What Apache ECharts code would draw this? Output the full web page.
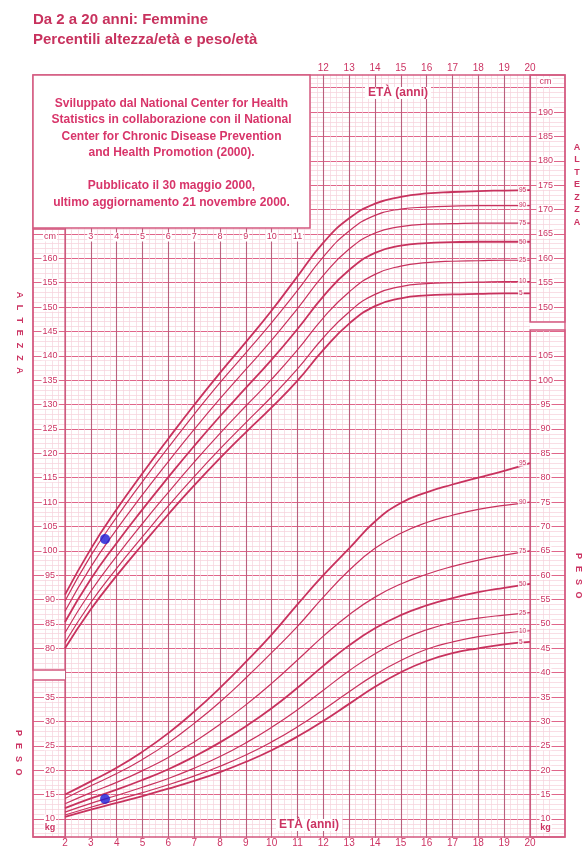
<!DOCTYPE html>
<html><head><meta charset="utf-8">
<script src="https://cdn.jsdelivr.net/npm/echarts@6/dist/echarts.min.js"></script>
<style>html,body{margin:0;padding:0;background:#fff}#c{width:584px;height:855px}</style>
</head><body><div id="c"></div>
<script>
// ---------- DATA ----------
const ages = [2,3,4,5,6,7,8,9,10,11,12,13,14,15,16,17,18,19,20];
// Stature-for-age (cm)
const statureP5  = [80.0, 88.0, 94.9,101.3,107.5,113.4,119.0,124.3,129.4,134.9,141.2,146.6,150.2,151.8,152.4,152.6,152.7,152.8,152.8];
const statureP10 = [81.2, 89.4, 96.4,102.9,109.2,115.2,120.9,126.3,131.6,137.3,143.7,149.0,152.6,154.2,154.8,155.0,155.1,155.2,155.2];
const statureP25 = [83.2, 91.7, 98.9,105.6,112.0,118.2,124.1,129.7,135.2,141.2,147.8,153.1,156.7,158.4,159.1,159.4,159.5,159.6,159.6];
const statureP50 = [85.4, 94.2,101.6,108.5,115.1,121.5,127.6,133.4,139.2,145.5,152.2,157.6,161.1,162.6,163.1,163.3,163.4,163.4,163.4];
const statureP75 = [87.6, 96.7,104.4,111.5,118.3,124.9,131.2,137.2,143.2,149.7,156.5,161.9,165.2,166.5,167.0,167.1,167.2,167.2,167.2];
const statureP90 = [89.7, 99.0,106.9,114.2,121.2,128.0,134.5,140.6,146.8,153.4,160.3,165.6,168.8,170.1,170.5,170.7,170.8,170.8,170.8];
const statureP95 = [91.0,100.4,108.5,115.9,123.0,129.9,136.5,142.8,149.3,156.3,163.2,168.2,171.2,172.6,173.3,173.6,173.8,173.9,174.0];
// Weight-for-age (kg)
const weightP5  = [10.4,11.9,13.3,14.7,16.2,17.8,19.6,21.7,24.1,26.9,30.1,33.6,37.1,40.1,42.4,44.0,45.0,45.8,46.3];
const weightP10 = [10.8,12.4,13.9,15.4,17.0,18.8,20.8,23.1,25.8,28.9,32.4,36.1,39.6,42.5,44.8,46.3,47.4,48.1,48.6];
const weightP25 = [11.4,13.2,14.8,16.5,18.3,20.4,22.8,25.6,28.8,32.4,36.4,40.4,43.9,46.7,48.8,50.3,51.2,51.8,52.3];
const weightP50 = [12.2,14.2,16.0,18.0,20.2,22.8,25.7,29.0,32.7,36.9,41.4,45.6,49.1,51.8,53.8,55.3,56.5,57.4,58.2];
const weightP75 = [13.1,15.4,17.5,19.9,22.6,25.8,29.4,33.4,37.8,42.6,47.5,51.9,55.5,58.2,60.2,61.8,63.1,64.1,65.0];
const weightP90 = [14.2,16.8,19.3,22.2,25.6,29.6,34.0,38.9,44.1,49.5,55.5,61.0,65.5,68.6,70.8,72.3,73.5,74.3,75.0];
const weightP95 = [15.0,17.7,20.5,23.8,27.6,32.0,36.9,42.2,47.8,54.0,60.0,65.5,71.0,74.8,77.0,78.6,80.0,81.4,83.0];
const percentileNames = ['5','10','25','50','75','90','95'];
// Patient measurements
const patientStature = [[3.55, 102.4]];
const patientWeight  = [[3.55, 14.1]];
// Tick label ranges
const bottomAgeLabels = [2,3,4,5,6,7,8,9,10,11,12,13,14,15,16,17,18,19,20];
const topAgeLabels = [12,13,14,15,16,17,18,19,20];
const innerAgeLabels = [3,4,5,6,7,8,9,10,11];
const leftStatureRange = [80,160];
const leftWeightRange = [10,35];
const rightStatureRange = [150,190];
const rightWeightRange = [10,105];

// ---------- CHART ----------
const RED = '#cc3463';
const LINE = '#c8325e';
const FONT = '"Liberation Sans", Arial, sans-serif';
const chart = echarts.init(document.getElementById('c'), null, {renderer:'canvas'});

const gTop = 63.3, gBottom = 11.7;
const grids = [
  {left:33, right:19, top:gTop, bottom:gBottom, show:false},
  {left:39.17, right:28.17, top:gTop, bottom:gBottom, show:false}
];
const STAT_MIN = 40, STAT_MAX = 200, W_MIN = 5, W_MAX = 165;

function rangeFmt(r){ return v => (v>=r[0] && v<=r[1]) ? String(v) : ''; }
function listFmt(list){ return v => list.indexOf(v) >= 0 ? String(v) : ''; }
const lblStyle = {fontSize:9, color:RED, fontFamily:FONT, backgroundColor:'#fff', padding:[0,1]};

const yAxes = [
  // 0: horizontal grid lines
  {gridIndex:0, type:'value', min:STAT_MIN, max:STAT_MAX, interval:5, position:'left', z:0,
   axisLine:{show:false}, axisTick:{show:false}, axisLabel:{show:false},
   splitLine:{show:true, showMinLine:false, showMaxLine:false, lineStyle:{color:'#e0668a', width:1.1}},
   minorTick:{show:false, splitNumber:5},
   minorSplitLine:{show:true, lineStyle:{color:'#f7d0da', width:0.7}}},
  // 1: left stature labels
  {gridIndex:0, type:'value', min:STAT_MIN, max:STAT_MAX, interval:5, position:'left', z:5,
   axisLine:{show:false}, axisTick:{show:false}, splitLine:{show:false},
   axisLabel:Object.assign({inside:true, margin:17, align:'center', formatter:rangeFmt(leftStatureRange)}, lblStyle)},
  // 2: left weight labels
  {gridIndex:0, type:'value', min:W_MIN, max:W_MAX, interval:5, position:'left', z:5,
   axisLine:{show:false}, axisTick:{show:false}, splitLine:{show:false},
   axisLabel:Object.assign({inside:true, margin:17, align:'center', formatter:rangeFmt(leftWeightRange)}, lblStyle)},
  // 3: right stature labels
  {gridIndex:0, type:'value', min:STAT_MIN, max:STAT_MAX, interval:5, position:'right', z:5,
   axisLine:{show:false}, axisTick:{show:false}, splitLine:{show:false},
   axisLabel:Object.assign({inside:true, margin:19.5, align:'center', formatter:rangeFmt(rightStatureRange)}, lblStyle)},
  // 4: right weight labels
  {gridIndex:0, type:'value', min:W_MIN, max:W_MAX, interval:5, position:'right', z:5,
   axisLine:{show:false}, axisTick:{show:false}, splitLine:{show:false},
   axisLabel:Object.assign({inside:true, margin:19.5, align:'center', formatter:rangeFmt(rightWeightRange)}, lblStyle)},
  // 5: stature data axis
  {gridIndex:1, type:'value', min:STAT_MIN, max:STAT_MAX, show:false},
  // 6: weight data axis
  {gridIndex:1, type:'value', min:W_MIN, max:W_MAX, show:false}
];

const xAxes = [
  {gridIndex:0, type:'value', min:0, max:1, show:false},
  // 1: vertical grid lines
  {gridIndex:1, type:'value', min:1, max:21, interval:1, position:'bottom', z:0,
   axisLine:{show:false}, axisTick:{show:false}, axisLabel:{show:false},
   splitLine:{show:true, showMinLine:false, showMaxLine:false, lineStyle:{color:'#b9607e', width:1.1}},
   minorTick:{show:false, splitNumber:4},
   minorSplitLine:{show:true, lineStyle:{color:'#f5d2dc', width:0.7}}},
  // 2: bottom labels
  {gridIndex:1, type:'value', min:1, max:21, interval:1, position:'bottom', z:5,
   axisLine:{show:false}, axisTick:{show:false}, splitLine:{show:false},
   axisLabel:{margin:0, verticalAlign:'middle', fontSize:10, color:RED, fontFamily:FONT, formatter:listFmt(bottomAgeLabels)}},
  // 3: top labels
  {gridIndex:1, type:'value', min:1, max:21, interval:1, position:'top', offset:-4.7, z:5,
   axisLine:{show:false}, axisTick:{show:false}, splitLine:{show:false},
   axisLabel:{margin:0, verticalAlign:'middle', fontSize:10, color:RED, fontFamily:FONT, formatter:listFmt(topAgeLabels)}},
  // 4: inner age row
  {gridIndex:1, type:'value', min:1, max:21, interval:1, position:'top', offset:-173.7, z:5,
   axisLine:{show:false}, axisTick:{show:false}, splitLine:{show:false},
   axisLabel:{margin:0, verticalAlign:'middle', fontSize:9, color:RED, fontFamily:FONT, backgroundColor:'#fff', padding:[0,1], formatter:listFmt(innerAgeLabels)}}
];

function pctSeries(arr, name, yIdx){
  const thick = (name==='5'||name==='50'||name==='95');
  return {
    type:'line', name:'P'+name, xAxisIndex:1, yAxisIndex:yIdx, z:3,
    data: ages.map((a,i)=>[a, arr[i]]),
    smooth:0.5, showSymbol:false, silent:true,
    lineStyle:{color:LINE, width: thick?1.8:1.2},
    endLabel:{show:true, formatter:name, offset:[-20,0], fontSize:6.5, color:RED, fontFamily:FONT,
      backgroundColor:'rgba(255,255,255,0.85)', padding:[0,1]}
  };
}
const statArrs = [statureP5,statureP10,statureP25,statureP50,statureP75,statureP90,statureP95];
const wArrs = [weightP5,weightP10,weightP25,weightP50,weightP75,weightP90,weightP95];
const series = [];
statArrs.forEach((a,i)=>series.push(pctSeries(a, percentileNames[i], 5)));
wArrs.forEach((a,i)=>series.push(pctSeries(a, percentileNames[i], 6)));
series.push({type:'scatter', xAxisIndex:1, yAxisIndex:5, data:patientStature, symbolSize:10, z:6, itemStyle:{color:'#1a1ad6'}});
series.push({type:'scatter', xAxisIndex:1, yAxisIndex:6, data:patientWeight, symbolSize:10, z:6, itemStyle:{color:'#1a1ad6'}});

// ---------- decorations ----------
const FR = '#d45a80';
function rect(x,y,w,h,fill,stroke,z,lw){ return {type:'rect', shape:{x,y,width:w,height:h}, z:z, silent:true,
  style:{fill:fill||'none', stroke:stroke||null, lineWidth:lw||1.3}}; }
function txt(x,y,text,opts){ return {type:'text', x, y, z:(opts&&opts.z)||8, silent:true, rotation:(opts&&opts.rot)||0,
  style:Object.assign({text, fill:RED, font:'bold 9px '+FONT, align:'center', verticalAlign:'middle'}, (opts&&opts.style)||{})}; }
function rotLetters(word, x, y0, pitch){ return word.split('').map((ch,i)=>txt(x, y0+i*pitch, ch, {rot:-Math.PI/2})); }

const elements = [
  rect(0,0,584,74.5,'#fff',null,1),
  rect(0,838,584,17,'#fff',null,1),
  rect(33,670,32,10,'#fff',null,1),
  rect(530,322,35,8,'#fff',null,1),
  rect(33,75,532,762,null,FR,2,1.4),
  rect(33,229,32,441,null,FR,2,1.3),
  rect(33,680,32,157,null,FR,2,1.3),
  rect(530,75,35,247,null,FR,2,1.3),
  rect(530,330,35,507,null,FR,2,1.3),
  rect(33,75,277,153,'#fff',FR,4,1.5),
  txt(171.5,95,'Sviluppato dal National Center for Health\nStatistics in collaborazione con il National\nCenter for Chronic Disease Prevention\nand Health Promotion (2000).\n\nPubblicato il 30 maggio 2000,\nultimo aggiornamento 21 novembre 2000.',
      {style:{font:'bold 12px '+FONT, verticalAlign:'top', lineHeight:16.5, fill:'#d8356a'}}),
  txt(33,20,'Da 2 a 20 anni: Femmine',{style:{font:'bold 15px '+FONT, align:'left', fill:'#c8325e'}}),
  txt(33,40,'Percentili altezza/età e peso/età',{style:{font:'bold 15px '+FONT, align:'left', fill:'#c8325e'}}),
  txt(50,237,'cm',{style:{font:'9px '+FONT, backgroundColor:'#fff', padding:[0,1]}}),
  txt(545.5,82,'cm',{style:{font:'9px '+FONT, backgroundColor:'#fff', padding:[0,1]}}),
  txt(50,828,'kg',{style:{font:'bold 9px '+FONT, backgroundColor:'#fff', padding:[0,1]}}),
  txt(545.5,828,'kg',{style:{font:'bold 9px '+FONT, backgroundColor:'#fff', padding:[0,1]}}),
  txt(398,93,'ETÀ (anni)',{style:{font:'bold 12px '+FONT, backgroundColor:'#fff', padding:[0,3]}}),
  txt(309,825,'ETÀ (anni)',{style:{font:'bold 12px '+FONT, backgroundColor:'#fff', padding:[0,3]}}),
  txt(577,141,'A\nL\nT\nE\nZ\nZ\nA',{style:{font:'bold 9px '+FONT, verticalAlign:'top', lineHeight:12.5}})
].concat(rotLetters('ALTEZZA', 19, 295, 12.6))
 .concat(rotLetters('PESO', 18, 733, 13))
 .concat(rotLetters('PESO', 578, 556, 13));

chart.setOption({
  animation:false,
  backgroundColor:'#fff',
  grid:grids,
  xAxis:xAxes,
  yAxis:yAxes,
  series:series,
  graphic:{elements:elements}
});
</script></body></html>
